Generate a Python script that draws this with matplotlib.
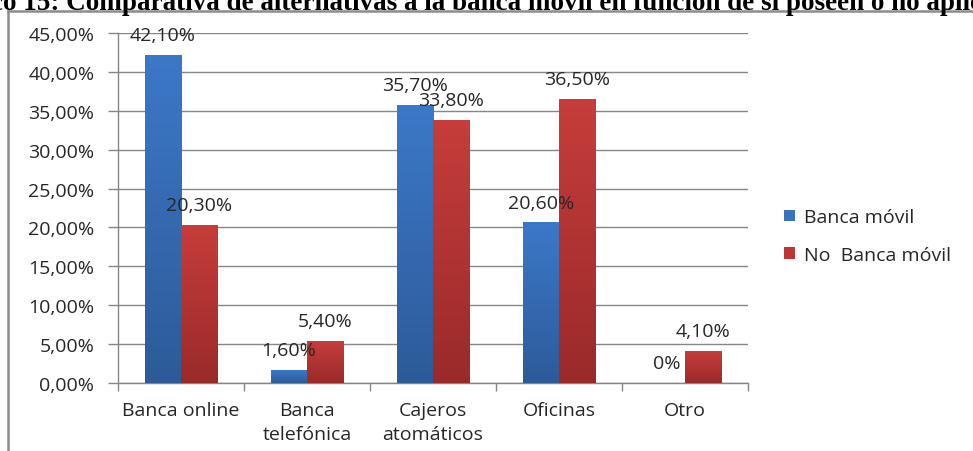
import matplotlib
matplotlib.use("Agg")
import matplotlib.pyplot as plt
import numpy as np
from matplotlib.colors import LinearSegmentedColormap

categories = ["Banca online", "Banca\ntelefónica", "Cajeros\natomáticos", "Oficinas", "Otro"]
banca_movil = [42.10, 1.60, 35.70, 20.60, 0.0]
no_banca_movil = [20.30, 5.40, 33.80, 36.50, 4.10]
labels_movil = ["42,10%", "1,60%", "35,70%", "20,60%", "0%"]
labels_no_movil = ["20,30%", "5,40%", "33,80%", "36,50%", "4,10%"]
yticks = np.arange(0, 46, 5)
ytick_labels = ["%.2f%%" % v for v in yticks]
ytick_labels = [s.replace(".", ",") for s in ytick_labels]

plt.rcParams['font.family'] = ['Open Sans', 'DejaVu Sans']
fs = 14

fig = plt.figure(figsize=(9.73, 4.52), dpi=100)
ax = fig.add_axes([0.1213, 0.1504, 0.6475, 0.7743])

x = np.arange(len(categories))
w = 0.286
b1 = ax.bar(x - w / 2, banca_movil, w, color="#3A72BF", label="Banca móvil", zorder=3)
b2 = ax.bar(x + w / 2, no_banca_movil, w, color="#BE3634", label="No  Banca móvil", zorder=3)

# excel-like vertical gradient on each bar
blue_cm = LinearSegmentedColormap.from_list("b", ["#2D5B99", "#3C78C8"])
red_cm = LinearSegmentedColormap.from_list("r", ["#9A2A2A", "#C63D3B"])
grad = np.linspace(0, 1, 100).reshape(-1, 1)
for bars, cm in ((b1, blue_cm), (b2, red_cm)):
    for p in bars:
        h = p.get_height()
        if h <= 0:
            continue
        x0 = p.get_x()
        ax.imshow(grad, cmap=cm, origin="lower", aspect="auto",
                  extent=(x0, x0 + p.get_width(), 0, h), zorder=3.5)

for xi, v, s in zip(x - w / 2, banca_movil, labels_movil):
    ax.annotate(s, (xi, v), xytext=(0, 14.5), textcoords="offset points",
                ha="center", va="center", fontsize=fs, color="#262626", zorder=5)
for xi, v, s in zip(x + w / 2, no_banca_movil, labels_no_movil):
    ax.annotate(s, (xi, v), xytext=(0, 14.5), textcoords="offset points",
                ha="center", va="center", fontsize=fs, color="#262626", zorder=5)

ax.set_xlim(-0.5, len(categories) - 0.5)
ax.set_ylim(0, 45)
ax.set_yticks(yticks)
ax.set_yticklabels(ytick_labels, fontsize=fs, color="#262626")
ax.set_xticks(x)
ax.set_xticklabels(categories, fontsize=fs, color="#262626", linespacing=1.4)
ax.set_xticks(np.arange(-0.5, len(categories)), minor=True)
ax.tick_params(axis="x", which="major", length=0, pad=13)
ax.tick_params(axis="x", which="minor", length=6, color="#868686", width=1)
ax.tick_params(axis="y", length=7, color="#868686", width=1, pad=10)
ax.yaxis.grid(True, color="#868686", linewidth=1, zorder=0)
ax.set_axisbelow(True)
for s in ("top", "right"):
    ax.spines[s].set_visible(False)
for s in ("left", "bottom"):
    ax.spines[s].set_color("#868686")
    ax.spines[s].set_linewidth(1)

leg = ax.legend(loc="center left", bbox_to_anchor=(1.03, 0.42), frameon=False,
                fontsize=fs, handlelength=0.55, handleheight=0.55, labelspacing=1.0,
                handletextpad=0.45)
for t in leg.get_texts():
    t.set_color("#262626")

# outer chart border (only left and top visible in the crop)
fig.add_artist(plt.Line2D([0.0087, 0.0087], [0, 0.9735], transform=fig.transFigure,
                          color="#8C8C8C", linewidth=1.8))
fig.add_artist(plt.Line2D([0.0087, 1.0], [0.9735, 0.9735], transform=fig.transFigure,
                          color="#8C8C8C", linewidth=1.8))

fig.text(0.5, 0.978, "co 15: Comparativa de alternativas a la banca móvil en función de si poseen o no aplic",
         ha="center", va="baseline", fontsize=19.5, fontweight="bold",
         family=["Liberation Serif", "DejaVu Serif"], color="black")

fig.savefig("out.png", dpi=100)
